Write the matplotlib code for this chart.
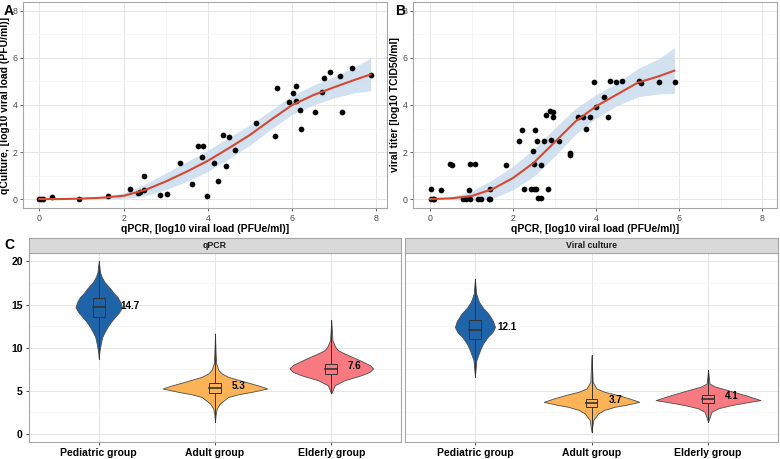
import matplotlib
matplotlib.use("Agg")
import matplotlib.pyplot as plt
from matplotlib.ticker import MultipleLocator

plt.rcParams['font.family'] = ['Liberation Sans', 'DejaVu Sans']

# ---- panel A data (qPCR vs qCulture) ----
a_x = [0, 0.04, 0.08, 0.30, 0.93, 1.62, 2.16, 2.34, 2.38, 2.49, 2.49, 2.87, 3.03,
       3.34, 3.63, 3.76, 3.89, 3.86, 3.98, 4.14, 4.24, 4.36, 4.42, 4.51, 4.65,
       5.15, 5.60, 5.65, 5.92, 6.02, 6.08, 6.08, 6.19, 6.22, 6.53, 6.71, 6.75,
       6.90, 7.13, 7.18, 7.43, 7.86]
a_y = [0, 0, 0, 0.08, 0, 0.13, 0.41, 0.27, 0.30, 0.38, 1.00, 0.17, 0.22,
       1.55, 0.63, 2.24, 2.24, 1.79, 0.11, 1.55, 0.77, 2.71, 1.42, 2.62, 2.08,
       3.25, 2.70, 4.73, 4.12, 4.50, 4.80, 4.16, 3.80, 2.98, 3.69, 4.54, 5.16,
       5.39, 5.23, 3.69, 5.57, 5.29]
a_fit_x = [0, 0.5, 1, 1.5, 2, 2.5, 3, 3.5, 4, 4.5, 5, 5.5, 6, 6.5, 7, 7.5, 7.86]
a_fit = [0, 0.0, 0.02, 0.06, 0.14, 0.38, 0.75, 1.17, 1.63, 2.17, 2.73, 3.38,
         4.0, 4.42, 4.76, 5.08, 5.3]
a_se = [0, 0, 0.01, 0.04, 0.12, 0.25, 0.35, 0.42, 0.45, 0.45, 0.43, 0.4,
        0.4, 0.42, 0.45, 0.55, 0.7]

# ---- panel B data (qPCR vs viral titer) ----
b_x = [0.02, 0.06, 0.10, 0.02, 0.27, 0.48, 0.54, 0.79, 0.87, 0.95, 0.94, 0.96,
       1.08, 1.16, 1.23, 1.42, 1.45, 1.45, 1.82, 2.13, 2.21, 2.26, 2.44, 2.49,
       2.54, 2.47, 2.49, 2.53, 2.57, 2.61, 2.67, 2.66, 2.75, 2.80, 2.85, 2.88,
       2.96, 2.92, 2.96, 3.10, 3.36, 3.38, 3.55, 3.69, 3.76, 3.84, 3.95, 3.99,
       4.18, 4.28, 4.34, 4.48, 4.63, 5.02, 5.07, 5.52, 5.89]
b_y = [0, 0, 0, 0.43, 0.40, 1.49, 1.45, 0, 0, 0, 0.39, 1.49,
       1.48, 0, 0, 0, 0, 0.43, 1.46, 2.48, 2.95, 0.43, 0.43, 0.43,
       0.43, 2.04, 1.49, 2.95, 2.45, 0.04, 0.04, 1.46, 2.48, 3.58, 0.43, 3.75,
       3.72, 2.53, 3.49, 2.48, 1.88, 1.98, 3.47, 3.50, 2.96, 3.50, 4.98, 3.93,
       4.34, 3.50, 5.01, 4.96, 5.01, 5.01, 4.93, 4.97, 4.97]
b_fit_x = [0, 0.5, 1, 1.5, 2, 2.5, 3, 3.5, 4, 4.5, 5, 5.5, 5.88]
b_fit = [0, 0.03, 0.13, 0.42, 0.9, 1.55, 2.42, 3.3, 3.95, 4.45, 4.95, 5.22, 5.46]
b_se = [0, 0.06, 0.2, 0.4, 0.5, 0.58, 0.6, 0.55, 0.5, 0.48, 0.6, 0.75, 0.97]

# ---- panel C data (violin profiles) ----
groups = ["Pediatric group", "Adult group", "Elderly group"]
facets = ["qPCR", "Viral culture"]
colors = ["#1f63a9", "#fcb257", "#f8797f"]

qpcr_y = [[20.0, 19.5, 18.8, 18.2, 17.6, 16.85, 16.3, 15.9, 15.3, 14.7, 14.1, 13.56, 13.0, 12.4, 11.8, 11.25, 10.3, 9.5, 8.75],
          [11.64, 9.5, 8.17, 7.4, 7.0, 6.62, 6.05, 5.6, 5.28, 4.9, 4.6, 4.3, 3.55, 2.97, 2.2, 1.42],
          [13.2, 10.87, 10.09, 9.7, 9.33, 8.55, 8.0, 7.6, 7.2, 6.82, 6.5, 6.24, 5.66, 4.7]]
qpcr_w = [[0, 0.005, 0.01, 0.025, 0.05, 0.10, 0.13, 0.16, 0.185, 0.20, 0.175, 0.14, 0.105, 0.075, 0.05, 0.03, 0.015, 0.005, 0],
          [0, 0.005, 0.01, 0.03, 0.06, 0.115, 0.26, 0.38, 0.45, 0.32, 0.2, 0.115, 0.043, 0.015, 0.005, 0],
          [0, 0.01, 0.035, 0.06, 0.115, 0.245, 0.33, 0.36, 0.33, 0.26, 0.18, 0.115, 0.03, 0]]
qpcr_box = [[13.56, 14.7, 15.76], [4.77, 5.28, 5.86], [6.94, 7.55, 8.17]]
qpcr_lab = ["14.7", "5.3", "7.6"]

vc_y = [[18.0, 16.27, 15.3, 14.6, 13.95, 13.1, 12.4, 11.8, 11.25, 10.5, 9.7, 8.55, 6.62],
        [9.13, 6.05, 5.28, 4.9, 4.5, 4.1, 3.73, 3.4, 3.16, 2.8, 2.39, 1.62, 0.27],
        [7.4, 5.86, 5.5, 5.09, 4.5, 3.93, 3.6, 3.35, 3.0, 2.58, 1.42]]
vc_w = [[0, 0.01, 0.035, 0.07, 0.115, 0.155, 0.172, 0.15, 0.11, 0.07, 0.043, 0.012, 0],
        [0, 0.01, 0.043, 0.11, 0.23, 0.33, 0.41, 0.3, 0.2, 0.11, 0.057, 0.015, 0],
        [0, 0.012, 0.06, 0.17, 0.32, 0.45, 0.3, 0.2, 0.09, 0.03, 0]]
vc_box = [[11.06, 12.1, 13.26], [3.16, 3.65, 4.05], [3.54, 4.08, 4.5]]
vc_lab = ["12.1", "3.7", "4.1"]

W, H = 780, 459
fig = plt.figure(figsize=(W / 100, H / 100), dpi=100)


def px_axes(l, t, r, b):
    return fig.add_axes([l / W, 1 - b / H, (r - l) / W, (b - t) / H])


BORDER = "#a6a6a6"


def style_scatter(ax):
    for s in ax.spines.values():
        s.set_color(BORDER)
        s.set_linewidth(0.8)
    ax.xaxis.set_major_locator(MultipleLocator(2))
    ax.xaxis.set_minor_locator(MultipleLocator(1))
    ax.yaxis.set_major_locator(MultipleLocator(2))
    ax.yaxis.set_minor_locator(MultipleLocator(1))
    ax.grid(which="major", color="#e6e6e6", lw=0.7)
    ax.grid(which="minor", color="#f3f3f3", lw=0.5)
    ax.set_axisbelow(True)
    ax.tick_params(which="major", length=2.5, width=0.6, color="#4d4d4d",
                   labelsize=6.3, labelcolor="#4d4d4d", pad=1.5)
    ax.tick_params(which="minor", length=0)


def smooth_panel(ax, x, y, fx, fit, se, xlim, ylabel):
    lo = [f - s for f, s in zip(fit, se)]
    hi = [f + s for f, s in zip(fit, se)]
    ax.fill_between(fx, lo, hi, color="#c9dcee", alpha=0.85, lw=0, zorder=2)
    ax.scatter(x, y, s=17, color="black", zorder=3, lw=0)
    ax.plot(fx, fit, color="#d6482f", lw=1.5, zorder=4)
    ax.set_xlim(*xlim)
    ax.set_ylim(-0.38, 8.38)
    style_scatter(ax)
    ax.set_xlabel("qPCR, [log10 viral load (PFUe/ml)]", fontsize=7.5,
                  fontweight="bold", labelpad=1)
    ax.set_ylabel(ylabel, fontsize=7.5, fontweight="bold", labelpad=2)


axA = px_axes(23, 2, 387, 208)
smooth_panel(axA, a_x, a_y, a_fit_x, a_fit, a_se, (-0.39, 8.25),
             "qCulture, [log10 viral load (PFU/ml)]")
axB = px_axes(413, 2, 777, 208)
smooth_panel(axB, b_x, b_y, b_fit_x, b_fit, b_se, (-0.41, 8.35),
             "viral titer [log10 TCID50/ml]")

# ---- panel C violins ----
panels = [(29, 401, qpcr_y, qpcr_w, qpcr_box, qpcr_lab, [14.8, 5.6, 7.9], [0.19, 0.14, 0.14]),
          (405, 778, vc_y, vc_w, vc_box, vc_lab, [12.4, 3.93, 4.43], [0.19, 0.146, 0.14])]

for i, (l, r, ys, ws, boxes, labs, lab_y, lab_dx) in enumerate(panels):
    ax = px_axes(l, 253, r, 442)
    for k in range(3):
        c = k + 1
        yy = ys[k]
        ww = ws[k]
        ax.fill_betweenx(yy, [c - w for w in ww], [c + w for w in ww],
                         facecolor=colors[k], edgecolor="#4d4d4d", lw=0.6, zorder=2)
        ax.plot([c, c], [min(yy), max(yy)], color="#333333", lw=0.7, zorder=3)
        q1, med, q3 = boxes[k]
        ax.add_patch(plt.Rectangle((c - 0.05, q1), 0.1, q3 - q1,
                                   facecolor=colors[k], edgecolor="#333333",
                                   lw=0.7, zorder=4))
        ax.plot([c - 0.05, c + 0.05], [med, med], color="#333333", lw=1.2, zorder=5)
        ax.text(c + lab_dx[k], lab_y[k], labs[k], fontsize=7.1, fontweight="bold",
                ha="left", va="center", zorder=6)
    ax.set_xlim(0.4, 3.6)
    ax.set_ylim(-0.92, 20.97)
    ax.set_xticks([1, 2, 3])
    ax.set_xticklabels(groups)
    ax.yaxis.set_major_locator(MultipleLocator(5))
    ax.yaxis.set_minor_locator(MultipleLocator(2.5))
    ax.grid(which="major", color="#e6e6e6", lw=0.7)
    ax.grid(which="minor", axis="y", color="#f3f3f3", lw=0.5)
    ax.set_axisbelow(True)
    for s in ax.spines.values():
        s.set_color(BORDER)
        s.set_linewidth(0.8)
    ax.tick_params(which="major", length=2.5, width=0.6, color="#333333",
                   labelsize=7.5, labelcolor="black", pad=2)
    ax.tick_params(which="minor", length=0)
    for t in ax.get_xticklabels() + ax.get_yticklabels():
        t.set_fontweight("bold")
    if i == 1:
        ax.tick_params(axis="y", which="both", length=0, labelleft=False)
    # facet strip
    st = px_axes(l, 238, r, 253)
    st.set_facecolor("#d9d9d9")
    st.set_xticks([])
    st.set_yticks([])
    for s in st.spines.values():
        s.set_color(BORDER)
        s.set_linewidth(0.8)
    st.text(0.5, 0.5, facets[i], transform=st.transAxes, ha="center", va="center",
            fontsize=6.3, fontweight="bold", color="#1a1a1a")

# panel letters
for lab, x, y in [("A", 9, 11), ("B", 400, 11), ("C", 9, 245)]:
    fig.text(x / W, 1 - y / H, lab, fontsize=10, fontweight="bold",
             ha="center", va="center")

fig.savefig("out.png", dpi=100)
